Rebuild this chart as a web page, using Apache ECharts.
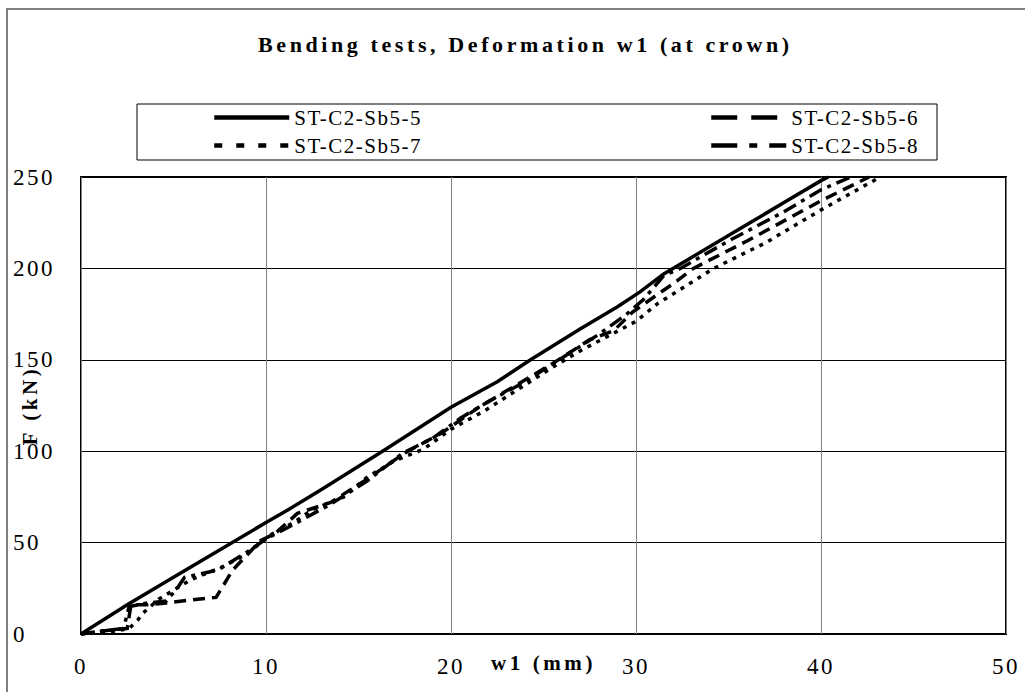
<!DOCTYPE html>
<html><head><meta charset="utf-8">
<script src="https://cdn.jsdelivr.net/npm/echarts/dist/echarts.min.js"></script>
<style>
html,body{margin:0;padding:0;background:#fff}
#c{width:1025px;height:692px}
#c text{letter-spacing:1.5px}
#c text[style*="23px"]{letter-spacing:2.5px}
#c text[style*="bold"]{letter-spacing:3.6px}
</style></head><body><div id="c"></div>
<script>
const titleText = 'Bending tests, Deformation w1 (at crown)';
const xName = 'w1 (mm)';
const yName = 'F (kN)';
const seriesNames = ['ST-C2-Sb5-5','ST-C2-Sb5-6','ST-C2-Sb5-7','ST-C2-Sb5-8'];
const xTicks = [0,10,20,30,40,50];
const yTicks = [0,50,100,150,200,250];

const s5 = [[0,0],[2.5,16],[5,31],[10,61],[11.2,68],[13,79],[16.3,100],[20,124],[22.5,138],[24.3,150],[27,167],[29,179],[30.2,187],[31.5,197],[33,206],[36,224],[38,236],[40,248],[40.4,250]];
const s6 = [[0,0],[1.5,2],[2.5,3],[2.7,16],[3.6,16],[4.6,17],[6.3,19],[7.3,20],[8.2,35],[9.7,51],[10.5,55],[11.7,66],[13.5,72],[15.5,85],[17.5,99],[19.5,110],[21.5,124],[23.5,136],[25.5,148],[27.5,161],[28.8,166],[29.8,176],[31.2,186],[32.2,193],[33.1,200],[36,215],[38,226],[40,237],[42.6,250]];
const s7 = [[0,0],[1.5,1],[2.6,3],[3.1,8],[3.3,11],[4.2,19],[5,24],[6,30],[7.7,37],[9,44],[10.2,54],[11.5,61],[12.5,68],[14.2,75],[15.5,86],[17,95],[18.5,101],[20,112],[21.8,122],[23.5,133],[25.5,146],[27,155],[28.5,163],[30,171],[31.2,181],[32,186],[34.2,200],[37,214],[40,232],[43.2,250]];
const s8 = [[0,0],[1,1.5],[2.3,3],[2.6,15],[3.6,17],[4.6,18],[5.2,25],[5.6,31],[7.4,35],[9,45],[10,52],[11.5,60],[13.5,71],[15.5,84],[17.4,99],[19,107],[20.5,118],[22,127],[24,138],[26,151],[28,164],[29.5,175],[30.4,183],[31.5,196],[32.4,200],[35,215],[38,231],[40,243],[41.6,250]];
const seriesData = [s5, s6, s7, s8];

const plotDash = ['solid', [12,7], [4,6], [14,6,4,6]];
const legendDash = ['solid', [26,14], [8,14], [26,12,8,12]];
const legendPos = [[212,107],[709,107],[212,135],[709,135]];

const chart = echarts.init(document.getElementById('c'), null, {renderer:'svg'});
const font = 'Liberation Serif';
chart.setOption({
  animation:false,
  backgroundColor:'#fff',
  title:{text:titleText, left:258, top:33, padding:0,
    textStyle:{fontFamily:font, fontSize:22, fontWeight:'bold', color:'#000'}},
  graphic:[
    {type:'rect', shape:{x:7,y:9,width:1040,height:720}, style:{fill:'none', stroke:'#555', lineWidth:1.5}, silent:true},
    {type:'rect', shape:{x:137,y:104,width:800,height:56}, style:{fill:'none', stroke:'#000', lineWidth:1}, silent:true}
  ],
  legend: seriesNames.map((n,i)=>({
    data:[n], left:legendPos[i][0], top:legendPos[i][1], padding:0,
    itemWidth:75, itemHeight:14, selectedMode:false,
    itemStyle:{opacity:0, borderWidth:0},
    lineStyle:{width:4.5, type:legendDash[i], color:'#000'},
    textStyle:{fontFamily:font, fontSize:21, color:'#000'}
  })),
  grid:{left:81, top:177, right:19, bottom:58, show:true, borderColor:'#000', borderWidth:2, containLabel:false, outerBoundsMode:'none'},
  xAxis:{type:'value', min:0, max:50, interval:10,
    name:xName, nameLocation:'middle', nameGap:18, nameMoveOverlap:false,
    nameTextStyle:{fontFamily:font, fontSize:21, fontWeight:'bold', color:'#000', verticalAlign:'top'},
    axisLine:{show:false}, axisTick:{show:false},
    axisLabel:{fontFamily:font, fontSize:23, color:'#000', margin:21,
      formatter:v=>xTicks.includes(v)?String(v):''},
    splitLine:{show:true, lineStyle:{color:'#808080', width:1}}},
  yAxis:{type:'value', min:0, max:250, interval:50,
    name:yName, nameLocation:'middle', nameGap:41, nameRotate:90, nameMoveOverlap:false,
    nameTextStyle:{fontFamily:font, fontSize:21, fontWeight:'bold', color:'#000'},
    axisLine:{show:false}, axisTick:{show:false},
    axisLabel:{fontFamily:font, fontSize:23, color:'#000', margin:68, align:'left',
      formatter:v=>yTicks.includes(v)?String(v):''},
    splitLine:{show:true, lineStyle:{color:'#000', width:1}}},
  series: seriesNames.map((n,i)=>({
    name:n, type:'line', data:seriesData[i], symbol:'none', smooth:false,
    lineStyle:{color:'#000', width:3.5, type:plotDash[i], cap:'butt', join:'miter'},
    itemStyle:{color:'#000'}
  }))
});
</script></body></html>
